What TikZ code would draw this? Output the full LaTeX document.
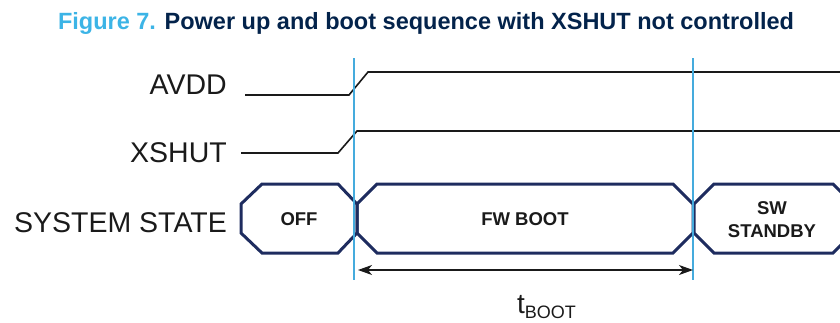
\documentclass[tikz,border=0pt]{standalone}
\usepackage{fontspec}
\setmainfont{Liberation Sans}
\usetikzlibrary{arrows.meta}
\definecolor{stcyan}{HTML}{3CB4E6}
\definecolor{stnavy}{HTML}{03234B}
\definecolor{boxnavy}{HTML}{1E2C5F}
\definecolor{guide}{HTML}{45ABDD}
\definecolor{ink}{HTML}{1A1A1A}
\begin{document}
\begin{tikzpicture}[x=1pt,y=-1pt,
  lbl/.style={anchor=base east, inner sep=0pt, text=ink, font=\fontsize{28.5}{32}\selectfont},
  sig/.style={line width=1.6pt, draw=ink},
  statebox/.style={line width=3pt, draw=boxnavy, line join=miter},
  stxt/.style={inner sep=0pt, align=center, text=ink, font=\fontsize{18.5}{23}\selectfont\bfseries},
  guideline/.style={line width=1.8pt, draw=guide},
  dimarrow/.style={line width=1.3pt, draw=ink, {Stealth[length=14pt,width=10pt,inset=4pt]}-{Stealth[length=14pt,width=10pt,inset=4pt]}}]
\useasboundingbox (0,0) rectangle (840,322);
\begin{scope}
\clip (0,0) rectangle (840,322);
% title
\node[anchor=base, inner sep=0pt, font=\fontsize{23.5}{28}\selectfont\bfseries] (title) at (426,29)
  {\textcolor{stcyan}{Figure 7.} \textcolor{stnavy}{Power up and boot sequence with XSHUT not controlled}};
% labels
\node[lbl] (avdd) at (227,94) {AVDD};
\node[lbl] (xshut) at (227,162) {XSHUT};
\node[lbl] (sysstate) at (227,232) {SYSTEM STATE};
% signals
\draw[sig] (245,95) -- (349,95) -- (368,72) -- (842,72);
\draw[sig] (241,153) -- (338,153) -- (357,131) -- (842,131);
% state boxes
\draw[statebox] (241,204) -- (262,184) -- (338,184) -- (357,204) -- (357,233) -- (338,253) -- (262,253) -- (241,233) -- cycle;
\draw[statebox] (357,204) -- (377,184) -- (673,184) -- (693,204) -- (693,233) -- (673,253) -- (377,253) -- (357,233) -- cycle;
\draw[statebox] (694,204) -- (714,184) -- (833,184) -- (853,204) -- (853,233) -- (833,253) -- (714,253) -- (694,233) -- cycle;
\node[stxt] (off) at (299,219) {OFF};
\node[stxt] (fwboot) at (525,219) {FW BOOT};
\node[stxt] (swstandby) at (772,220) {SW\\STANDBY};
% guide lines
\draw[guideline] (354,58) -- (354,280);
\draw[guideline] (693,58) -- (693,280);
% t_BOOT
\coordinate (ts) at (358,270);
\coordinate (te) at (693,270);
\draw[dimarrow] (ts) -- (te);
\node[anchor=base, inner sep=0pt, text=ink] (tboot) at (546.5,313)
  {\fontsize{28}{32}\selectfont t\raisebox{-5pt}{\fontsize{18}{20}\selectfont BOOT}};
\end{scope}
\end{tikzpicture}
\end{document}
